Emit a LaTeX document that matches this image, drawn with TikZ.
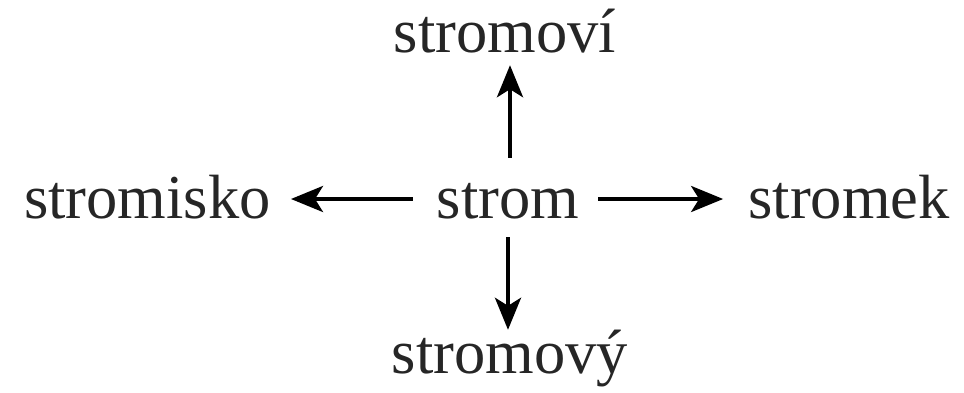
\documentclass[tikz,border=0pt]{standalone}
\usepackage{fontspec}
\setmainfont{Liberation Serif}
\usetikzlibrary{arrows.meta}
\definecolor{ink}{HTML}{262626}
\begin{document}
\begin{tikzpicture}[x=1pt,y=1pt,
  word/.style={anchor=base,inner sep=0pt,text=ink,font=\fontsize{62.5}{70}\selectfont,text height=44pt,text depth=16pt},
  arr/.style={line width=4pt,-{Stealth[length=32pt,width=26pt,inset=8pt]}}]
\useasboundingbox (0,0) rectangle (964,392);
\node[word] (strom) at (508,174) {strom};
\node[word] (stromovi) at (505,339) {stromoví};
\node[word] (stromovy) at (510,19) {stromový};
\node[word] (stromisko) at (147.5,174) {stromisko};
\node[word] (stromek) at (849,174) {stromek};
\draw[arr,shorten <=16pt,shorten >=-4pt] ([xshift=2pt]strom.north) -- ([xshift=5pt]stromovi.south);
\draw[arr,shorten <=3pt,shorten >=-1pt] (strom.south) -- ([xshift=-2pt]stromovy.north);
\draw[arr,shorten <=24pt,shorten >=20pt] ([yshift=5pt]strom.west) -- ([yshift=5pt]stromisko.east);
\draw[arr,shorten <=19pt,shorten >=25pt] ([yshift=5pt]strom.east) -- ([yshift=5pt]stromek.west);
\end{tikzpicture}
\end{document}
